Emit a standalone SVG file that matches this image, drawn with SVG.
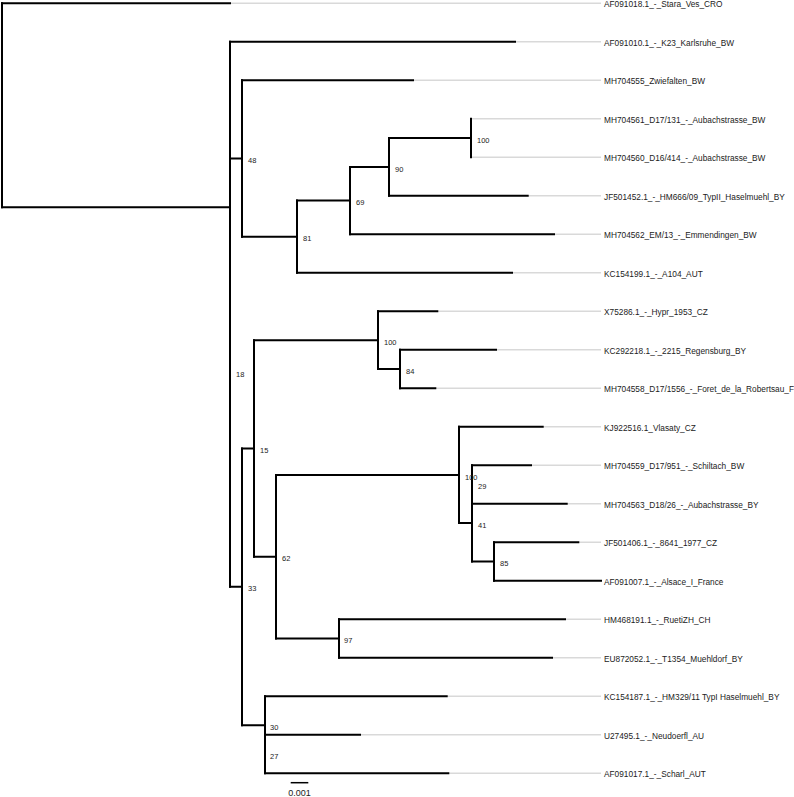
<svg xmlns="http://www.w3.org/2000/svg" width="794" height="797" viewBox="0 0 794 797">
<style>
.br{fill:none;stroke:#000;stroke-width:2;stroke-linecap:square}
.ext{fill:none;stroke:#d9d9d9;stroke-width:1.5}
.lf{font-family:"Liberation Sans",Arial,sans-serif;font-size:8.3px;fill:#222}
.nl{font-family:"Liberation Sans",Arial,sans-serif;font-size:7.5px;fill:#222}
.sc{font-family:"Liberation Sans",Arial,sans-serif;font-size:9px;fill:#222;text-anchor:middle}
</style>
<rect width="794" height="797" fill="#fff"/>
<g id="connectors">
<path class="ext" d="M230 3.3H601M515 41.8H601M413 80.3H601M471 118.8H601M471 157.3H601M527.7 195.8H601M554 234.3H601M512 272.8H601M437.3 311.3H601M496 349.8H601M435.3 388.3H601M542.7 426.8H601M531 465.3H601M566.7 503.8H601M578.3 542.3H601M565 619.3H601M552 657.8H601M446.7 696.3H601M360 734.8H601M448.3 773.3H601"/>
<path class="br" d="M2 3.3V207.2M230 41.8V586.8M242 80.3V236.7M297 200.6V272.8M350 166.9V234.3M389 138.05V195.8M471 118.8V157.3M242 448.45V725.2M254 340.2V556.7M378 311.3V369.05M400 349.8V388.3M276 474.9V638.55M459 426.8V523.05M472 465.3V561.55M494 542.3V580.8M339 619.3V657.8M265 696.3V773.3"/>
<path class="br" d="M2 3.3H230M2 207.2H230M230 41.8H515M230 158.5H242M230 586.8H242M242 80.3H413M242 236.7H297M297 200.6H350M297 272.8H512M350 166.9H389M350 234.3H554M389 138.05H471M389 195.8H527.7M242 448.45H254M242 725.2H265M254 340.2H378M254 556.7H276M378 311.3H437.3M378 369.05H400M400 349.8H496M400 388.3H435.3M276 474.9H459M276 638.55H339M459 426.8H542.7M459 523.05H472M472 465.3H531M472 503.8H566.7M472 561.55H494M494 542.3H578.3M494 580.8H601M339 619.3H565M339 657.8H552M265 696.3H446.7M265 734.8H360M265 773.3H448.3"/>
</g>
<g id="leaf1"><text class="lf" x="604" y="7">AF091018.1_-_Stara_Ves_CRO</text></g>
<g id="leaf2"><text class="lf" x="604" y="45.5">AF091010.1_-_K23_Karlsruhe_BW</text></g>
<g id="leaf3"><text class="lf" x="604" y="84">MH704555_Zwiefalten_BW</text></g>
<g id="leaf4"><text class="lf" x="604" y="122.5">MH704561_D17/131_-_Aubachstrasse_BW</text></g>
<g id="leaf5"><text class="lf" x="604" y="161">MH704560_D16/414_-_Aubachstrasse_BW</text></g>
<g id="leaf6"><text class="lf" x="604" y="199.5">JF501452.1_-_HM666/09_TypII_Haselmuehl_BY</text></g>
<g id="leaf7"><text class="lf" x="604" y="238">MH704562_EM/13_-_Emmendingen_BW</text></g>
<g id="leaf8"><text class="lf" x="604" y="276.5">KC154199.1_-_A104_AUT</text></g>
<g id="leaf9"><text class="lf" x="604" y="315">X75286.1_-_Hypr_1953_CZ</text></g>
<g id="leaf10"><text class="lf" x="604" y="353.5">KC292218.1_-_2215_Regensburg_BY</text></g>
<g id="leaf11"><text class="lf" x="604" y="392">MH704558_D17/1556_-_Foret_de_la_Robertsau_F</text></g>
<g id="leaf12"><text class="lf" x="604" y="430.5">KJ922516.1_Vlasaty_CZ</text></g>
<g id="leaf13"><text class="lf" x="604" y="469">MH704559_D17/951_-_Schiltach_BW</text></g>
<g id="leaf14"><text class="lf" x="604" y="507.5">MH704563_D18/26_-_Aubachstrasse_BY</text></g>
<g id="leaf15"><text class="lf" x="604" y="546">JF501406.1_-_8641_1977_CZ</text></g>
<g id="leaf16"><text class="lf" x="604" y="584.5">AF091007.1_-_Alsace_I_France</text></g>
<g id="leaf17"><text class="lf" x="604" y="623">HM468191.1_-_RuetiZH_CH</text></g>
<g id="leaf18"><text class="lf" x="604" y="661.5">EU872052.1_-_T1354_Muehldorf_BY</text></g>
<g id="leaf19"><text class="lf" x="604" y="700">KC154187.1_-_HM329/11 TypI Haselmuehl_BY</text></g>
<g id="leaf20"><text class="lf" x="604" y="738.5">U27495.1_-_Neudoerfl_AU</text></g>
<g id="leaf21"><text class="lf" x="604" y="777">AF091017.1_-_Scharl_AUT</text></g>
<g id="n48"><text class="nl" x="248" y="163">48</text></g>
<g id="n81"><text class="nl" x="303" y="241.2">81</text></g>
<g id="n69"><text class="nl" x="356" y="205.2">69</text></g>
<g id="n90"><text class="nl" x="395" y="171.5">90</text></g>
<g id="n100a"><text class="nl" x="477" y="142.6">100</text></g>
<g id="n18"><text class="nl" x="236" y="377.2">18</text></g>
<g id="n15"><text class="nl" x="260" y="453">15</text></g>
<g id="n100b"><text class="nl" x="384" y="344.8">100</text></g>
<g id="n84"><text class="nl" x="406" y="373.6">84</text></g>
<g id="n62"><text class="nl" x="282" y="561.2">62</text></g>
<g id="n100c"><text class="nl" x="465" y="479.5">100</text></g>
<g id="n29"><text class="nl" x="478" y="489.2">29</text></g>
<g id="n41"><text class="nl" x="478" y="527.6">41</text></g>
<g id="n85"><text class="nl" x="500" y="566.2">85</text></g>
<g id="n97"><text class="nl" x="344" y="643">97</text></g>
<g id="n33"><text class="nl" x="248" y="591.4">33</text></g>
<g id="n30"><text class="nl" x="270" y="729.8">30</text></g>
<g id="n27"><text class="nl" x="270" y="758.6">27</text></g>
<g id="scalebar">
<line x1="290.7" y1="782.7" x2="308.3" y2="782.7" stroke="#000" stroke-width="1.5"/>
<text class="sc" x="299.5" y="795.5">0.001</text>
</g>
</svg>
